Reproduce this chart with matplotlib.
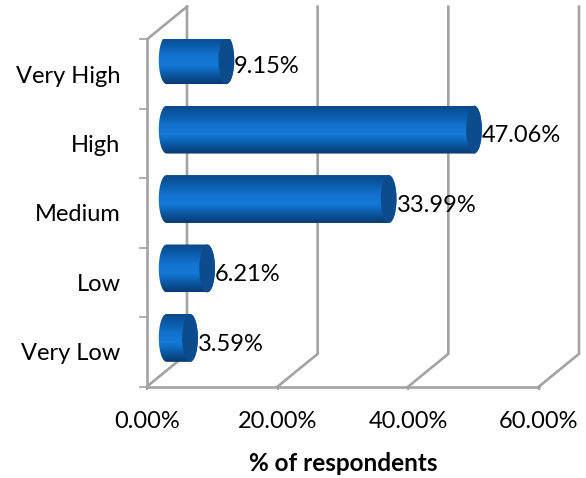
import numpy as np
import matplotlib
matplotlib.use('Agg')
import matplotlib.pyplot as plt
from matplotlib.colors import LinearSegmentedColormap
from matplotlib.patches import Ellipse, PathPatch
from matplotlib.path import Path

categories = ['Very Low', 'Low', 'Medium', 'High', 'Very High']
values = [3.59, 6.21, 33.99, 47.06, 9.15]
x_ticks = [0, 20, 40, 60]
x_tick_labels = ['0.00%', '20.00%', '40.00%', '60.00%']

GREY = '#a3a3a3'
DEPTH_X = 6.12     # 3-D wall offset, x data units
DEPTH_Y = 0.47     # 3-D wall offset, category units
BAR_X0 = 3.0       # cylinders stand mid-depth
BAR_DY = 0.2
BAR_H = 0.69
CAP_W = 2.4
FONT_SIZE = 17

plt.rcParams['font.family'] = ['Lato', 'DejaVu Sans']

fig = plt.figure(figsize=(5.86, 4.78), dpi=100)
ax = fig.add_axes([147 / 586, (478 - 386.5) / 478, 392 / 586, 347.2 / 478])

body_cmap = LinearSegmentedColormap.from_list(
    'body', ['#0a3a70', '#0b5aa6', '#1479d8', '#1272cc', '#0b5cab', '#0a4a8a'])
gradient = np.linspace(0, 1, 64).reshape(-1, 1)


def draw_cylinder(ax, y, value):
    """Horizontal cylinder: shaded body, rounded back, flat dark end cap."""
    x0 = BAR_X0
    x1 = BAR_X0 + value
    yc = y + BAR_DY
    t = np.linspace(-np.pi / 2, np.pi / 2, 40)
    right_x = x1 + CAP_W / 2 * np.cos(t)
    right_y = yc + BAR_H / 2 * np.sin(t)
    left_x = x0 - CAP_W / 2 * np.cos(t[::-1])
    left_y = yc + BAR_H / 2 * np.sin(t[::-1])
    outline = np.column_stack([np.r_[right_x, left_x], np.r_[right_y, left_y]])
    patch = PathPatch(Path(np.vstack([outline, outline[:1]])), fc='none', ec='none',
                      transform=ax.transData, zorder=3)
    ax.add_patch(patch)
    im = ax.imshow(gradient, cmap=body_cmap, aspect='auto', origin='lower',
                   extent=[x0 - CAP_W, x1 + CAP_W, yc - BAR_H / 2, yc + BAR_H / 2],
                   zorder=3)
    im.set_clip_path(patch)
    ax.add_patch(Ellipse((x1, yc), CAP_W, BAR_H, fc='#0c4c8c', ec='none', zorder=4))


# back walls: floor diagonal plus the vertical grid line behind it
for x in x_ticks:
    ax.plot([x, x + DEPTH_X, x + DEPTH_X], [-0.5, -0.5 + DEPTH_Y, 4.5 + DEPTH_Y],
            color=GREY, lw=1.9, clip_on=False, zorder=1, solid_joinstyle='miter')
ax.plot([0, DEPTH_X], [4.5, 4.5 + DEPTH_Y], color=GREY, lw=1.9, clip_on=False, zorder=1)

for y, value in enumerate(values):
    draw_cylinder(ax, y, value)
    ax.annotate(f'{value:.2f}%', (BAR_X0 + value + CAP_W / 2, y + BAR_DY),
                xytext=(0, -4.5), textcoords='offset points', fontsize=FONT_SIZE,
                va='center', ha='left', color='black', zorder=5,
                annotation_clip=False)

ax.set_xlim(0, 60)
ax.set_ylim(-0.5, 4.5)

for side in ('top', 'right'):
    ax.spines[side].set_visible(False)
for side in ('left', 'bottom'):
    ax.spines[side].set_color(GREY)
    ax.spines[side].set_linewidth(1.9)

ax.set_xticks(x_ticks, x_tick_labels, fontsize=FONT_SIZE)
ax.set_yticks(np.arange(-0.5, 5, 1))
ax.set_yticklabels([])
ax.set_yticks(range(len(categories)), categories, minor=True, fontsize=FONT_SIZE)
ax.tick_params(axis='y', which='major', length=6, width=1.2, color=GREY)
ax.tick_params(axis='y', which='minor', length=0, pad=19)
ax.tick_params(axis='x', length=2, width=1.5, color=GREY, pad=16)

ax.set_xlabel('% of respondents', fontsize=17.5, fontweight='bold')
ax.xaxis.set_label_coords((343 - 147) / 392, -(463 - 386) / 347)
ax.xaxis.label.set_va('center')

fig.savefig('out.png', dpi=100)
